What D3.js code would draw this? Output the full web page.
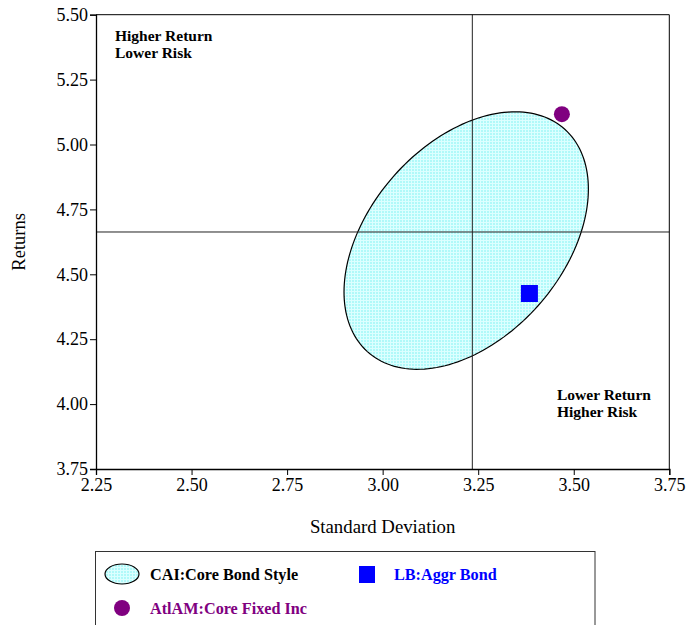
<!DOCTYPE html>
<html>
<head>
<meta charset="utf-8">
<script src="https://cdn.jsdelivr.net/npm/d3@7"></script>
<style>
  body { margin: 0; background: #fff; }
  svg { display: block; font-family: "Liberation Serif", "Times New Roman", serif; }
</style>
</head>
<body>
<svg id="chart" width="690" height="625"></svg>
<script>
// Axis ticks
const xTicks = [2.25, 2.50, 2.75, 3.00, 3.25, 3.50, 3.75];
const yTicks = [3.75, 4.00, 4.25, 4.50, 4.75, 5.00, 5.25, 5.50];

// Peer group style ellipse: centre, spread and correlation
const styleCenter = [3.2186, 4.630];
const styleSpread = [0.3197, 0.496];
const styleCorr = 0.40;

// Median crosshair of the peer group
const medianPoint = [3.2346, 4.663];

// Individual portfolios
const managerNames = ["AtlAM:Core Fixed Inc"];
const managerPoints = [[3.469, 5.117]];
const indexNames = ["LB:Aggr Bond"];
const indexPoints = [[3.384, 4.426]];

const svg = d3.select("#chart");
const m = { left: 96, right: 690 - 669.3, top: 14.7, bottom: 625 - 469 };
const W = 690, H = 625;

const x = d3.scaleLinear().domain([2.25, 3.75]).range([m.left, W - m.right]);
const y = d3.scaleLinear().domain([3.75, 5.50]).range([H - m.bottom, m.top]);

// Grid-textured cyan fill
const defs = svg.append("defs");
const pat = defs.append("pattern").attr("id", "mesh")
  .attr("width", 3).attr("height", 3).attr("patternUnits", "userSpaceOnUse");
pat.append("rect").attr("width", 3).attr("height", 3).attr("fill", "#b0f9f9");
pat.append("rect").attr("width", 3).attr("height", 1).attr("fill", "#dcffff");
pat.append("rect").attr("width", 1).attr("height", 3).attr("fill", "#dcffff");

// Ellipse outline sampled in data space
const ts = d3.range(0, 361, 2).map(d => d * Math.PI / 180);
const ell = ts.map(t => [
  styleCenter[0] + styleSpread[0] * Math.cos(t),
  styleCenter[1] + styleSpread[1] * (styleCorr * Math.cos(t) + Math.sqrt(1 - styleCorr * styleCorr) * Math.sin(t))
]);
const line = d3.line().x(d => x(d[0])).y(d => y(d[1])).curve(d3.curveLinearClosed);
svg.append("path").attr("d", line(ell))
  .attr("fill", "url(#mesh)").attr("stroke", "#000").attr("stroke-width", 1.2);

// Crosshair
svg.append("line")
  .attr("x1", x(medianPoint[0])).attr("x2", x(medianPoint[0]))
  .attr("y1", y(3.75)).attr("y2", y(5.50))
  .attr("stroke", "#222").attr("stroke-width", 1);
svg.append("line")
  .attr("x1", x(2.25)).attr("x2", x(3.75))
  .attr("y1", y(medianPoint[1])).attr("y2", y(medianPoint[1]))
  .attr("stroke", "#222").attr("stroke-width", 1);

// Frame
svg.append("line").attr("x1", x(2.25)).attr("x2", x(3.75)).attr("y1", y(5.5)).attr("y2", y(5.5)).attr("stroke", "#000");
svg.append("line").attr("x1", x(3.75)).attr("x2", x(3.75)).attr("y1", y(3.75)).attr("y2", y(5.5)).attr("stroke", "#000");

// Axes
const fmt = d3.format(".2f");
const xAxis = svg.append("g").attr("transform", `translate(0,${y(3.75)})`)
  .call(d3.axisBottom(x).tickValues(xTicks).tickFormat(fmt).tickSize(6).tickPadding(3));
const yAxis = svg.append("g").attr("transform", `translate(${x(2.25)},0)`)
  .call(d3.axisLeft(y).tickValues(yTicks).tickFormat(fmt).tickSize(6).tickPadding(2));
[xAxis, yAxis].forEach(g => {
  g.select(".domain").attr("stroke", "#000").attr("stroke-width", 1.3);
  g.selectAll(".tick line").attr("stroke", "#000");
  g.selectAll("text").attr("font-family", "Liberation Serif").attr("font-size", 18).attr("fill", "#000");
});

// Axis titles
svg.append("text").attr("x", (x(2.25) + x(3.75)) / 2).attr("y", 533)
  .attr("text-anchor", "middle").attr("font-size", 18.8).text("Standard Deviation");
svg.append("text").attr("transform", `translate(25,${(y(3.75) + y(5.5)) / 2}) rotate(-90)`)
  .attr("text-anchor", "middle").attr("font-size", 18.5).text("Returns");

// Quadrant notes
const note = (tx, ty, lines) => {
  const t = svg.append("text").attr("font-size", 15.5).attr("font-weight", "bold");
  lines.forEach((s, i) => t.append("tspan").attr("x", tx).attr("y", ty + i * 17).text(s));
};
note(115, 41, ["Higher Return", "Lower Risk"]);
note(557, 400, ["Lower Return", "Higher Risk"]);

// Points
svg.selectAll("rect.idx").data(indexPoints).join("rect").attr("class", "idx")
  .attr("x", d => x(d[0]) - 8.5).attr("y", d => y(d[1]) - 8.5)
  .attr("width", 17).attr("height", 17).attr("fill", "#0000ff");
svg.selectAll("circle.mgr").data(managerPoints).join("circle").attr("class", "mgr")
  .attr("cx", d => x(d[0])).attr("cy", d => y(d[1])).attr("r", 8).attr("fill", "#800080");

// Legend
const lg = svg.append("g");
lg.append("rect").attr("x", 95.5).attr("y", 551.5).attr("width", 499.5).attr("height", 100)
  .attr("fill", "#fff").attr("stroke", "#333").attr("stroke-width", 1);
lg.append("ellipse").attr("cx", 122).attr("cy", 574).attr("rx", 17).attr("ry", 10)
  .attr("fill", "url(#mesh)").attr("stroke", "#000").attr("stroke-width", 1.2);
lg.append("text").attr("x", 150).attr("y", 580).attr("font-size", 16.2).attr("font-weight", "bold")
  .attr("fill", "#000").text("CAI:Core Bond Style");
lg.append("rect").attr("x", 359).attr("y", 566).attr("width", 16).attr("height", 17).attr("fill", "#0000ff");
lg.append("text").attr("x", 394).attr("y", 580).attr("font-size", 16.2).attr("font-weight", "bold")
  .attr("fill", "#0000ff").text(indexNames[0]);
lg.append("circle").attr("cx", 122).attr("cy", 608).attr("r", 8).attr("fill", "#800080");
lg.append("text").attr("x", 150).attr("y", 614).attr("font-size", 16.2).attr("font-weight", "bold")
  .attr("fill", "#800080").text(managerNames[0]);
</script>
</body>
</html>
